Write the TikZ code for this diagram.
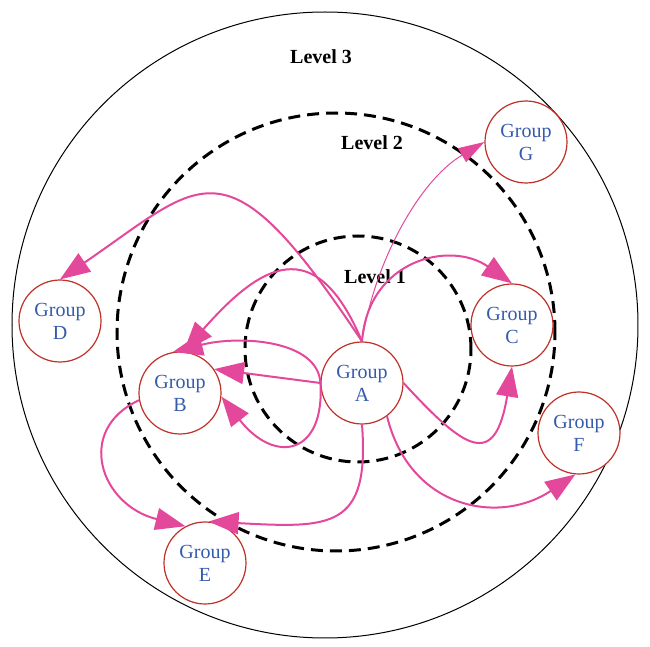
\documentclass[tikz,border=0pt]{standalone}
\usepackage{fontspec}
\setmainfont{Liberation Serif}
\usetikzlibrary{arrows.meta}
\definecolor{linkpink}{RGB}{228,72,154}
\definecolor{ringred}{RGB}{192,48,40}
\definecolor{groupblue}{RGB}{52,92,172}
\begin{document}
\begin{tikzpicture}
  [x=0.5pt,y=-0.5pt,
  groupdecorate/.style={shape=circle,minimum size=41pt,inner sep=0pt,draw=ringred,line width=0.6pt,
    fill=white,text=groupblue,align=center,font=\fontsize{10}{11.5}\selectfont},
  leveldecorate/.style={font=\fontsize{10}{12}\selectfont\bfseries},
  ringdecorate/.style={dash pattern=on 6pt off 3.5pt,line width=1.5pt},
  arrowdecorate/.style={-{Triangle[length=15pt,width=11pt]},color=linkpink,line width=1pt},
  thinarrowdecorate/.style={-{Triangle[length=13pt,width=8pt]},color=linkpink,line width=0.5pt}]
  \useasboundingbox (0,0) rectangle (650,647);
  %% rings
  \draw[line width=0.5pt] (325,325) circle[radius=156.5pt];
  \draw[ringdecorate] (336,332) circle[radius=109.5pt];
  \draw[ringdecorate] (358,349) circle[radius=56.5pt];
  %% level labels
  \foreach \levelname/\x/\y/\levelno in {lvlthree/321/57/3, lvltwo/372/143/2, lvlone/375/277/1}
  {
    \node[leveldecorate] (\levelname) at (\x,\y) {Level \levelno};
  }
  %% groups
  \foreach \nodename/\x/\y in {A/362/383, B/180/393, C/512/325, D/60/321,
    E/205/563, F/579/433, G/526/142}
  {
    \node[groupdecorate] (\nodename) at (\x,\y) {Group\\\nodename};
  }
  %% links
  \foreach \startnode/\ax/\ay/\bx/\by/\endnode in {A.north/225/135/205/180/D.north,
    A.north/315/230/260/265/B.85, A.north/368/260/450/240/C.north,
    A.west/318/340/240/335/B.100, A.west/325/455/275/465/B.355,
    A.south/370/530/330/528/E.85, B.190/75/430/100/505/E.118,
    A.east/465/450/495/470/C.south, A.307/410/510/500/525/F.265}
  {
    \draw[arrowdecorate] (\startnode) .. controls (\ax,\ay) and (\bx,\by) .. (\endnode);
  }
  \draw[arrowdecorate] (A.west) -- (B.35);
  \draw[thinarrowdecorate] (A.north) .. controls (375,260) and (420,180) .. (G.west);
\end{tikzpicture}
\end{document}
